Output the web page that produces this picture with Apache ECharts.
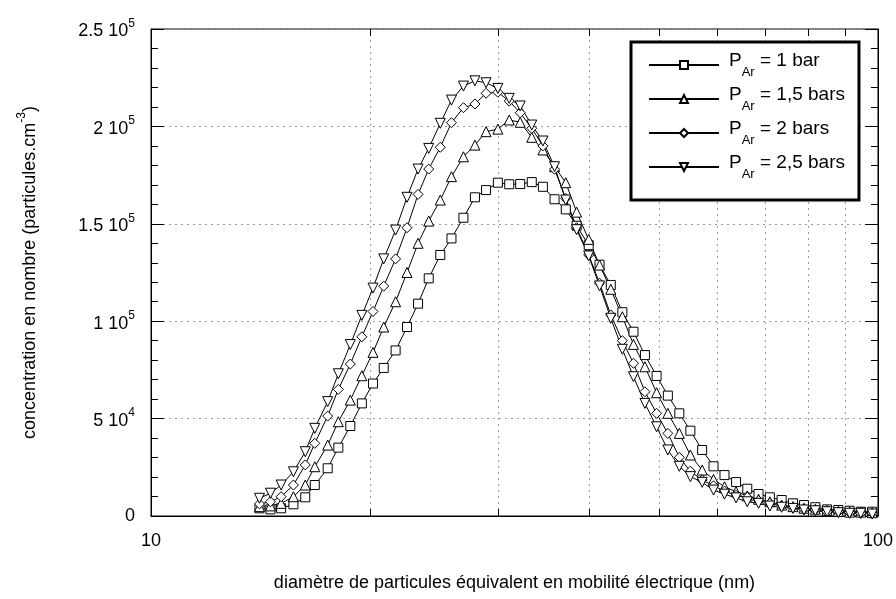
<!DOCTYPE html>
<html>
<head>
<meta charset="utf-8">
<script src="https://cdn.jsdelivr.net/npm/echarts@6/dist/echarts.min.js"></script>
<style>
  html, body { margin: 0; padding: 0; background: #fff; }
  #chart { width: 896px; height: 599px; }
</style>
</head>
<body>
<div id="chart"></div>
<script>
// diamètres (nm) des canaux SMPS
const diameters = [14.1, 14.6, 15.1, 15.7, 16.3, 16.8, 17.5, 18.1, 18.8, 19.5, 20.2, 20.9, 21.7, 22.5, 23.3, 24.1, 25.0, 25.9, 26.9, 27.9, 28.9, 30.0, 31.1, 32.2, 33.4, 34.6, 35.9, 37.2, 38.5, 40.0, 41.4, 42.9, 44.5, 46.1, 47.8, 49.6, 51.4, 53.3, 55.2, 57.3, 59.4, 61.5, 63.8, 66.1, 68.5, 71.0, 73.7, 76.4, 79.1, 82.0, 85.1, 88.2, 91.4, 94.7, 98.2];

const bar1 = [3950, 3400, 3950, 6000, 9600, 15900, 24500, 35100, 46200, 57800, 68000, 76000, 85000, 97000, 109000, 122000, 134000, 142500, 153100, 163600, 167300, 171100, 170300, 170400, 171400, 169000, 162600, 157400, 149000, 139000, 129000, 118600, 104600, 94600, 82600, 71900, 61800, 52700, 43800, 33900, 25500, 21000, 17400, 14000, 11300, 9600, 8200, 6500, 5600, 4500, 3400, 3100, 2700, 2200, 2200];
const bar15 = [4800, 5200, 6500, 9900, 15900, 25300, 36400, 48400, 59500, 72000, 84000, 97000, 110000, 125000, 140000, 151400, 162200, 174200, 184400, 190400, 197300, 198600, 203300, 202100, 194400, 187900, 179300, 171100, 156000, 142000, 128800, 116400, 102300, 88100, 76600, 63300, 52700, 42400, 31300, 23600, 18800, 15000, 12500, 10300, 8600, 7300, 5600, 4800, 4000, 3500, 2900, 2400, 2000, 2000, 1700];
const bar2 = [6200, 7300, 9900, 15900, 26200, 37300, 51300, 65000, 78000, 92000, 105000, 118000, 132000, 148000, 165100, 178100, 189300, 201900, 209600, 211500, 217000, 217500, 213000, 207000, 199000, 190000, 178000, 163000, 148000, 134000, 119500, 103200, 90000, 78400, 63800, 52700, 42400, 30100, 23000, 18500, 15500, 12800, 10600, 9600, 7900, 6500, 5100, 4500, 3400, 3100, 2200, 2200, 1700, 1400, 1400];
const bar25 = [9100, 11700, 15900, 22700, 33000, 45000, 58700, 73000, 88000, 103000, 117000, 132000, 146800, 163600, 178100, 188700, 201600, 213500, 220700, 223400, 222400, 219500, 214400, 210500, 200700, 192500, 179300, 162200, 147000, 133500, 118100, 101500, 85600, 71500, 57800, 45800, 33900, 25500, 20200, 17300, 13300, 11200, 9300, 7300, 6500, 5100, 4500, 3900, 3100, 2700, 2200, 1700, 1400, 1400, 1000];

const pressures = ['1 bar', '1,5 bars', '2 bars', '2,5 bars'];
const xMinorTicks = [20, 30, 40, 50, 60, 70, 80, 90];
const yMantissa = ['0', '5 10', '1 10', '1.5 10', '2 10', '2.5 10'];
const yExponent = ['', '4', '5', '5', '5', '5'];

const FONT = '"Liberation Sans", Arial, Helvetica, sans-serif';
const yMin = 0, yMax = 250000, yStep = 50000;

const chart = echarts.init(document.getElementById('chart'));

const names = pressures.map(p => 'PAr = ' + p);
const symbols = [
  { symbol: 'rect', size: 9, rotate: 0 },
  { symbol: 'triangle', size: 10, rotate: 0 },
  { symbol: 'diamond', size: 10, rotate: 0 },
  { symbol: 'triangle', size: 10, rotate: 180 }
];
const values = [bar1, bar15, bar2, bar25];

const lineSeries = values.map((vals, k) => ({
  name: names[k],
  type: 'line',
  data: diameters.map((d, i) => [d, vals[i]]),
  symbol: symbols[k].symbol,
  symbolSize: symbols[k].size,
  symbolRotate: symbols[k].rotate,
  showAllSymbol: true,
  lineStyle: { color: '#000', width: 1 },
  itemStyle: { color: '#fff', borderColor: '#000', borderWidth: 1 },
  z: 3
}));

// lignes de grille + graduations de l'axe log (20..90)
const xGridSeries = {
  type: 'custom',
  name: 'xgrid',
  silent: true,
  z: 1,
  data: xMinorTicks.map(v => [v, 0]),
  encode: { x: 0, y: 1 },
  renderItem: (params, api) => {
    const v = api.value(0);
    const b = api.coord([v, yMin]);
    const t = api.coord([v, yMax]);
    const x = Math.round(b[0]) + 0.5;
    return {
      type: 'group',
      children: [
        { type: 'line', shape: { x1: x, y1: b[1], x2: x, y2: t[1] }, style: { stroke: '#999', lineWidth: 1, lineDash: [2, 4] } },
        { type: 'line', shape: { x1: x, y1: b[1], x2: x, y2: b[1] - 7 }, style: { stroke: '#000', lineWidth: 1 } },
        { type: 'line', shape: { x1: x, y1: t[1], x2: x, y2: t[1] + 7 }, style: { stroke: '#000', lineWidth: 1 } }
      ]
    };
  }
};

const yLabelFormatter = (v) => {
  const i = Math.round(v / yStep);
  if (i === 0) return '0';
  return '{m|' + yMantissa[i] + '}{e|' + yExponent[i] + '}';
};

const yAxisBase = {
  type: 'value',
  min: yMin,
  max: yMax,
  interval: yStep,
  axisLine: { show: true, lineStyle: { color: '#000', width: 1 } },
  axisTick: { show: true, inside: true, length: 13, lineStyle: { color: '#000' } },
  minorTick: { show: true, splitNumber: 5, length: 7, lineStyle: { color: '#000' } }
};

chart.setOption({
  animation: false,
  backgroundColor: '#fff',
  textStyle: { fontFamily: FONT, color: '#000' },
  grid: { left: 151, right: 17, top: 29, bottom: 83, show: true, borderColor: '#000', borderWidth: 1 },
  legend: {
    data: names,
    orient: 'vertical',
    left: 631,
    top: 42,
    padding: [9, 14, 19, 17],
    itemGap: 6,
    itemWidth: 70,
    itemHeight: 10,
    borderColor: '#000',
    borderWidth: 3,
    backgroundColor: '#fff',
    selectedMode: false,
    formatter: (name) => {
      const k = names.indexOf(name);
      return '{p|P}{sub|Ar}{t| = ' + pressures[k] + '}';
    },
    textStyle: {
      fontFamily: FONT,
      color: '#000',
      fontSize: 19,
      rich: {
        p: { fontSize: 19, lineHeight: 23, verticalAlign: 'top', padding: [0, 0, 0, 5], fontFamily: FONT },
        sub: { fontSize: 13, verticalAlign: 'bottom', padding: [15, 0, 0, 0], fontFamily: FONT },
        t: { fontSize: 19, lineHeight: 23, verticalAlign: 'top', fontFamily: FONT }
      }
    }
  },
  xAxis: {
    type: 'log',
    logBase: 10,
    min: 10,
    max: 100,
    name: 'diamètre de particules équivalent en mobilité électrique (nm)',
    nameLocation: 'middle',
    nameGap: 58,
    nameTextStyle: { fontSize: 18, fontFamily: FONT, color: '#000' },
    axisLine: { show: true, lineStyle: { color: '#000', width: 1 } },
    axisTick: { show: false },
    splitLine: { show: false },
    axisLabel: { fontSize: 18, color: '#000', fontFamily: FONT, margin: 16, showMinLabel: true, showMaxLabel: true }
  },
  yAxis: [
    Object.assign({}, yAxisBase, {
      position: 'left',
      name: '{t|concentration en nombre (particules.cm}{s|-3}{t|)}',
      nameLocation: 'middle',
      nameRotate: 90,
      nameGap: 112,
      nameTextStyle: {
        fontFamily: FONT,
        color: '#000',
        rich: {
          t: { fontSize: 18, fontFamily: FONT, verticalAlign: 'bottom', padding: [5, 0, 0, 0] },
          s: { fontSize: 12, fontFamily: FONT, verticalAlign: 'top' }
        }
      },
      splitLine: { show: true, lineStyle: { color: '#999', width: 1, type: [2, 4] } },
      axisLabel: {
        fontSize: 18,
        color: '#000',
        fontFamily: FONT,
        margin: 16,
        formatter: yLabelFormatter,
        rich: {
          m: { fontSize: 18, fontFamily: FONT, verticalAlign: 'bottom', padding: [5, 0, 0, 0] },
          e: { fontSize: 12, fontFamily: FONT, verticalAlign: 'top' }
        }
      }
    }),
    Object.assign({}, yAxisBase, {
      position: 'right',
      splitLine: { show: false },
      axisLabel: { show: false }
    })
  ],
  series: [xGridSeries].concat(lineSeries)
});
</script>
</body>
</html>
